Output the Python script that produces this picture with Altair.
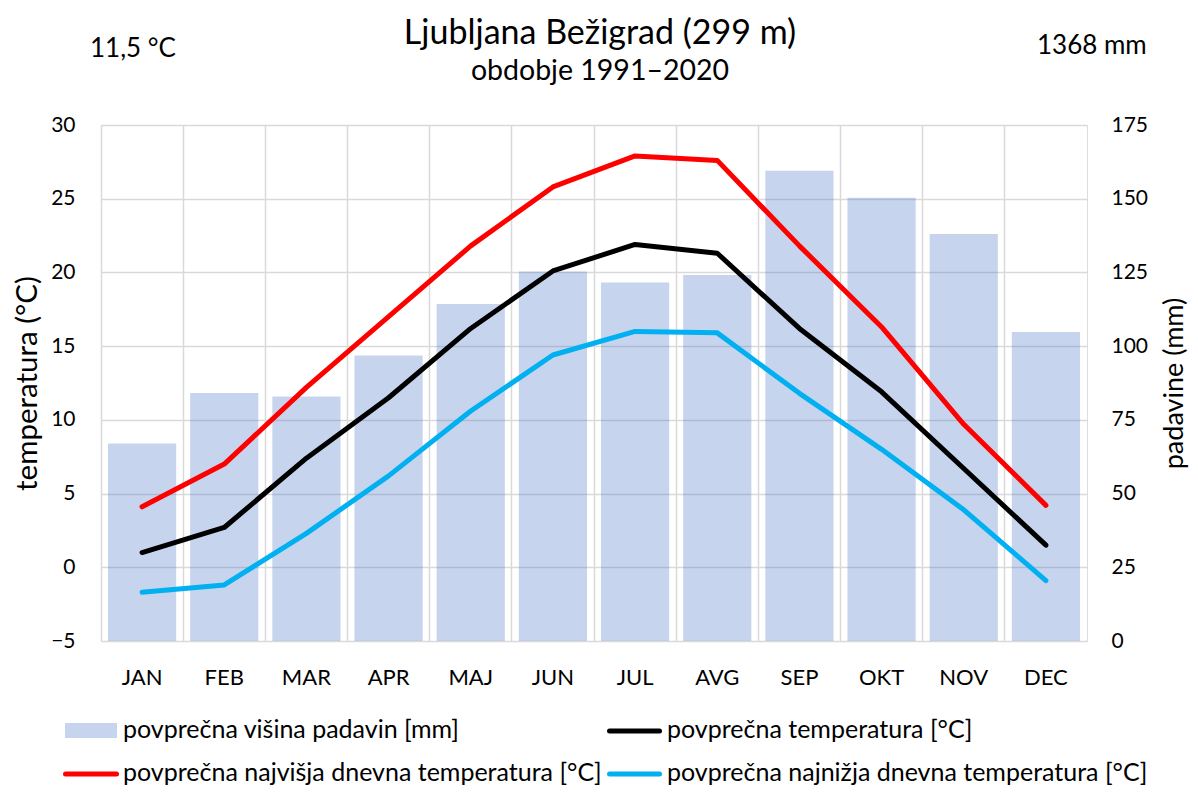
import altair as alt
import pandas as pd

months = ["JAN", "FEB", "MAR", "APR", "MAJ", "JUN", "JUL", "AVG", "SEP", "OKT", "NOV", "DEC"]
precip = [67.0, 84.1, 82.9, 96.8, 114.3, 125.3, 121.6, 124.1, 159.5, 150.3, 138.0, 104.8]
t_mean = [1.0, 2.7, 7.4, 11.5, 16.2, 20.1, 21.9, 21.3, 16.2, 11.9, 6.7, 1.5]
t_max = [4.1, 7.0, 12.2, 17.0, 21.8, 25.8, 27.9, 27.6, 21.8, 16.3, 9.7, 4.2]
t_min = [-1.7, -1.2, 2.3, 6.2, 10.6, 14.4, 16.0, 15.9, 11.8, 8.0, 3.9, -0.9]

series_names = ["najvisja", "povprecna", "najnizja"]
series_colors = ["#ff0000", "#000000", "#00b0f0"]

title_text = "Ljubljana Bežigrad (299 m)"
subtitle_text = "obdobje 1991–2020"
annual_temp = "11,5 °C"
annual_precip = "1368 mm"
legend_labels = [
    "povprečna višina padavin [mm]",
    "povprečna temperatura [°C]",
    "povprečna najvišja dnevna temperatura [°C]",
    "povprečna najnižja dnevna temperatura [°C]",
]

FONT = "Lato"
GRID = "#d9d9d9"
BAR_BLUE = "#4472c4"
TXT = "#000000"

bars_df = pd.DataFrame({"month": months, "precip": precip})
lines_df = pd.concat([
    pd.DataFrame({"month": months, "value": t_max, "series": series_names[0]}),
    pd.DataFrame({"month": months, "value": t_mean, "series": series_names[1]}),
    pd.DataFrame({"month": months, "value": t_min, "series": series_names[2]}),
])

x_axis = alt.Axis(
    title=None, labelAngle=0, domain=False, ticks=False, tickSize=0,
    grid=True, gridColor=GRID, gridWidth=1.5, bandPosition=0,
    labelFont=FONT, labelFontSize=22, labelColor=TXT, labelPadding=43,
    labelBaseline="alphabetic",
)
x_enc = alt.X("month:N", sort=months, scale=alt.Scale(paddingInner=0, paddingOuter=0), axis=x_axis)

bars = alt.Chart(bars_df).mark_bar(
    color=BAR_BLUE, opacity=0.3, width=alt.RelativeBandSize(0.83)
).encode(
    x=x_enc,
    y=alt.Y(
        "precip:Q",
        scale=alt.Scale(domain=[0, 175], nice=False, zero=True),
        axis=alt.Axis(
            orient="right", values=list(range(0, 176, 25)), grid=False,
            domain=False, ticks=False, tickSize=0,
            labelFont=FONT, labelFontSize=21, labelColor=TXT, labelPadding=24,
            labelAlign="left",
            title="padavine (mm)", titleFont=FONT, titleFontSize=27, titleFontWeight="normal",
            titleColor=TXT, titleAngle=270, titleX=87, titleY=258,
            titleAlign="center", titleBaseline="middle",
        ),
    ),
)

lines = alt.Chart(lines_df).mark_line(
    strokeWidth=5, strokeCap="round", strokeJoin="round"
).encode(
    x=x_enc,
    y=alt.Y(
        "value:Q",
        scale=alt.Scale(domain=[-5, 30], nice=False, zero=False),
        axis=alt.Axis(
            orient="left", values=list(range(-5, 31, 5)), grid=True,
            gridColor=GRID, gridWidth=1.5,
            domain=False, ticks=False, tickSize=0,
            labelFont=FONT, labelFontSize=21, labelColor=TXT, labelPadding=26,
            title="temperatura (°C)", titleFont=FONT, titleFontSize=29.5, titleFontWeight="normal",
            titleColor=TXT, titleAngle=270, titleX=-74, titleY=258,
            titleAlign="center", titleBaseline="middle",
        ),
    ),
    color=alt.Color("series:N", scale=alt.Scale(domain=series_names, range=series_colors), legend=None),
    detail="series:N",
)

one = alt.Data(values=[{"k": 1}])


def txt(text, x, y, size, align="center"):
    return alt.Chart(one).mark_text(
        text=text, font=FONT, fontSize=size, color=TXT, align=align, baseline="alphabetic"
    ).encode(x=alt.value(x), y=alt.value(y))


title = txt(title_text, 499, -81, 34)
subtitle = txt(subtitle_text, 499, -45, 28.5)
left_note = txt(annual_temp, -11, -68, 26, align="left")
right_note = txt(annual_precip, 936, -71, 26, align="left")

leg_rect = alt.Chart(one).mark_rect(color=BAR_BLUE, opacity=0.3).encode(
    x=alt.value(-36), x2=alt.value(16), y=alt.value(598), y2=alt.value(613)
)


def leg_line(color, x1, x2, y):
    return alt.Chart(one).mark_rule(color=color, strokeWidth=5, strokeCap="round").encode(
        x=alt.value(x1), x2=alt.value(x2), y=alt.value(y)
    )


leg1 = leg_line(series_colors[1], 508.5, 558.5, 606)
leg2 = leg_line(series_colors[0], -35.5, 15.5, 649)
leg3 = leg_line(series_colors[2], 508.5, 558.5, 649)

lt0 = txt(legend_labels[0], 22, 613, 25, align="left")
lt1 = txt(legend_labels[1], 566, 613, 25, align="left")
lt2 = txt(legend_labels[2], 22, 656, 25, align="left")
lt3 = txt(legend_labels[3], 566, 656, 25, align="left")

chart = alt.layer(
    bars, lines, title, subtitle, left_note, right_note,
    leg_rect, leg1, leg2, leg3, lt0, lt1, lt2, lt3,
).resolve_scale(y="independent").properties(
    width=986, height=516,
    autosize=alt.AutoSizeParams(type="none"),
    padding={"left": 93, "top": 117, "right": 103, "bottom": 145},
).configure_view(
    stroke=GRID, strokeWidth=1.5
).configure(background="white")

chart.save("out.html", embed_options={"renderer": "svg", "actions": False})
